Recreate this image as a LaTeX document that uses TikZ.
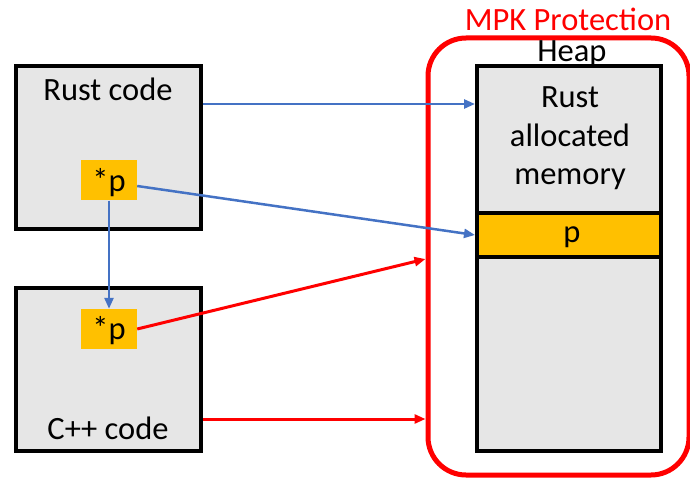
\documentclass[tikz,border=0pt]{standalone}
\usepackage{fontspec}
\setmainfont{Carlito}
\usetikzlibrary{arrows.meta}
\definecolor{boxgray}{HTML}{E6E6E6}
\definecolor{ptrorange}{HTML}{FFC000}
\definecolor{linkblue}{HTML}{4472C4}
\definecolor{mpkred}{HTML}{FF0000}
\begin{document}
\begin{tikzpicture}[x=1pt,y=-1pt,
  codebox/.style={draw=black, line width=4pt, fill=boxgray, inner sep=0pt},
  bandbox/.style={draw=black, line width=4pt, fill=ptrorange, inner sep=0pt},
  ptrbox/.style={fill=ptrorange, inner sep=0pt, minimum width=56pt, minimum height=40pt},
  lbl/.style={font=\fontsize{32.5}{38.5}\selectfont, inner sep=0pt, anchor=base},
  bluearrow/.style={draw=linkblue, line width=2.5pt, -{Triangle[length=11pt,width=9pt]}},
  redarrow/.style={draw=mpkred, line width=3pt, -{Triangle[length=11pt,width=9pt]}},
  mpkframe/.style={draw=mpkred, line width=5pt, rounded corners=38pt, inner sep=0pt}]
\useasboundingbox (0,0) rectangle (690,478);
\clip (0,0) rectangle (690,478);

% code boxes
\node[codebox, minimum width=185pt, minimum height=163pt] (rust) at (108.5,147.5) {};
\node[codebox, minimum width=185pt, minimum height=163pt] (cpp) at (108.5,369.5) {};
\node[ptrbox] (ptr1) at (109,180.5) {};
\node[ptrbox] (ptr2) at (109,329) {};

% heap
\node[codebox, minimum width=184pt, minimum height=385pt] (heap) at (569,258.5) {};
\node[bandbox, minimum width=184pt, minimum height=44pt] (band) at (569,235) {};

% MPK frame
\node[mpkframe, minimum width=261pt, minimum height=437pt] (mpk) at (558.5,256.5) {};

% texts
\node[lbl] (rusttxt) at (108,101) {Rust code};
\node[lbl] (p1txt) at (109,192) {*p};
\node[lbl] (p2txt) at (109,339) {*p};
\node[lbl] (cpptxt) at (108,439) {C++ code};
\node[lbl] (heaptxt) at (572,62) {Heap};
\node[lbl] (ra1) at (570,108) {Rust};
\node[lbl] (ra2) at (570,147) {allocated};
\node[lbl] (ra3) at (570,185) {memory};
\node[lbl] (ptxt) at (572,243) {p};
\node[lbl, text=mpkred] (mpktxt) at (568,31) {MPK Protection};

% connectors
\draw[bluearrow] (rust.east |- 0,104) -- (heap.west |- 0,104);
\draw[bluearrow] (ptr1.east |- 0,186) -- (band.west);
\draw[bluearrow] (ptr1.south) -- (ptr2.north);
\draw[redarrow] (ptr2.east) -- (mpk.west |- 0,259);
\draw[redarrow] (cpp.east |- 0,419) -- (mpk.west |- 0,419);
\end{tikzpicture}
\end{document}
